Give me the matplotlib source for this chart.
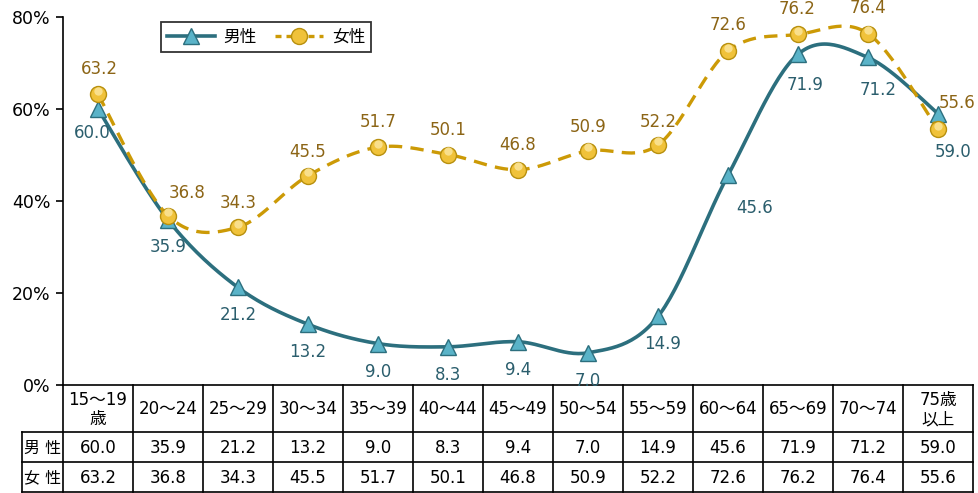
import numpy as np
import matplotlib
matplotlib.use('Agg')
import matplotlib.pyplot as plt
import matplotlib.transforms as mtrans

plt.rcParams['font.family'] = ['DejaVu Sans', 'Noto Sans CJK JP']

ages = ['15～19\n歳', '20～24', '25～29', '30～34', '35～39', '40～44', '45～49',
        '50～54', '55～59', '60～64', '65～69', '70～74', '75歳\n以上']
male = [60.0, 35.9, 21.2, 13.2, 9.0, 8.3, 9.4, 7.0, 14.9, 45.6, 71.9, 71.2, 59.0]
female = [63.2, 36.8, 34.3, 45.5, 51.7, 50.1, 46.8, 50.9, 52.2, 72.6, 76.2, 76.4, 55.6]
series_names = ['男性', '女性']
yticks = [0, 20, 40, 60, 80]

# label offsets in pixels (dx, dy), dy positive = down
male_off = [(-6, 24), (0, 27), (0, 28), (0, 28), (0, 28), (0, 28), (0, 28), (0, 28),
            (5, 28), (27, 33), (7, 31), (10, 33), (15, 38)]
female_off = [(1, -25), (19, -23), (0, -24), (0, -24), (0, -25), (0, -25), (0, -25),
              (0, -24), (0, -23), (0, -26), (-1, -25), (0, -26), (19, -26)]

MALE_C = '#2C6F7E'
FEMALE_C = '#CC9A06'
MALE_TXT = '#2B5E6D'
FEMALE_TXT = '#8C6516'


def smooth(xs, ys, n=30):
    '''Catmull-Rom style Bezier smoothing (like Excel smoothed lines).'''
    pts = np.column_stack([xs, ys]).astype(float)
    out = []
    for i in range(len(pts) - 1):
        p0 = pts[i - 1] if i > 0 else pts[i]
        p1 = pts[i]
        p2 = pts[i + 1]
        p3 = pts[i + 2] if i + 2 < len(pts) else pts[i + 1]
        c1 = p1 + (p2 - p0) / 6
        c2 = p2 - (p3 - p1) / 6
        t = np.linspace(0, 1, n)[:, None]
        seg = ((1 - t) ** 3) * p1 + 3 * ((1 - t) ** 2) * t * c1 + 3 * (1 - t) * t ** 2 * c2 + t ** 3 * p2
        out.append(seg if i == 0 else seg[1:])
    out = np.vstack(out)
    return out[:, 0], out[:, 1]


W, H = 979, 493
fig = plt.figure(figsize=(W / 100, H / 100), dpi=100)
L, R, T, B = 63, 973, 17, 385
ax = fig.add_axes([L / W, 1 - B / H, (R - L) / W, (B - T) / H])

x = np.arange(len(ages))
mx, my = smooth(x, male)
fx, fy = smooth(x, female)

ax.plot(mx, my, color=MALE_C, lw=2.6, solid_capstyle='round', zorder=3)
ax.plot(x, male, ls='none', marker='^', ms=12, mfc='#5AB3C8', mec='#2C6F7E', mew=1.0, zorder=4)
ax.plot(fx, fy, color=FEMALE_C, lw=2.4, ls=(0, (4, 2.5)), zorder=5)
ax.plot(x, female, ls='none', marker='o', ms=11.5, mfc='#F0C23A', mec='#B8900E', mew=1.0, zorder=6)
# small highlight on the gold balls
hl = ax.transData + mtrans.ScaledTranslation(0, 2.5 / 72, fig.dpi_scale_trans)
ax.plot(x, female, ls='none', marker='o', ms=6, mfc='#FBE59A', mec='none', alpha=0.85,
        transform=hl, zorder=6.5)

# legend proxies
h1, = ax.plot([], [], color=MALE_C, lw=2.6, marker='^', ms=12, mfc='#5AB3C8', mec='#2C6F7E')
h2, = ax.plot([], [], color=FEMALE_C, lw=2.4, ls=(0, (1.8, 1.5)), marker='o', ms=11.5,
              mfc='#F0C23A', mec='#B8900E')
leg = ax.legend([h1, h2], series_names, loc='upper left',
                bbox_to_anchor=((161 - L) / (R - L), (B - 22) / (B - T)),
                ncol=2, frameon=True, fancybox=False, edgecolor='black',
                fontsize=12, handlelength=2.9, columnspacing=1.1, handletextpad=0.5,
                borderpad=0.35, borderaxespad=0)
leg.get_frame().set_linewidth(1.3)

for i in range(len(ages)):
    dx, dy = male_off[i]
    ax.annotate(f'{male[i]:.1f}', (x[i], male[i]), xytext=(dx * 0.72, -dy * 0.72),
                textcoords='offset points', ha='center', va='center',
                fontsize=12, color=MALE_TXT, zorder=7)
    dx, dy = female_off[i]
    ax.annotate(f'{female[i]:.1f}', (x[i], female[i]), xytext=(dx * 0.72, -dy * 0.72),
                textcoords='offset points', ha='center', va='center',
                fontsize=12, color=FEMALE_TXT, zorder=7)

ax.set_xlim(-0.5, len(ages) - 0.5)
ax.set_ylim(0, 80)
ax.set_yticks(yticks)
ax.set_yticklabels([f'{v}%' for v in yticks], fontsize=12.5)
ax.set_xticks([])
for s in ['top', 'right', 'bottom']:
    ax.spines[s].set_visible(False)
ax.spines['left'].set_linewidth(1.2)
ax.tick_params(axis='y', length=5, width=1.2, pad=4)
ax.patch.set_alpha(0)

# data table under the chart
tab = fig.add_axes([0, 0, 1, 1], zorder=-1)
tab.set_xlim(0, W)
tab.set_ylim(H, 0)
tab.axis('off')
n = len(ages)
cw = (R - L) / n
rows = [B, 432, 462, 492]
lw = 1.2
tab.plot([L, R], [B, B], color='black', lw=lw)
for yy in rows[1:]:
    tab.plot([22, R], [yy, yy], color='black', lw=lw)
for i in range(n + 1):
    tab.plot([L + i * cw, L + i * cw], [B, rows[-1]], color='black', lw=lw)
tab.plot([22, 22], [rows[1], rows[-1]], color='black', lw=lw)
for i in range(n):
    cx = L + (i + 0.5) * cw
    tab.text(cx, (rows[0] + rows[1]) / 2 + 1, ages[i], ha='center', va='center',
             fontsize=12, linespacing=1.1)
    tab.text(cx, (rows[1] + rows[2]) / 2 + 1, f'{male[i]:.1f}', ha='center', va='center', fontsize=12)
    tab.text(cx, (rows[2] + rows[3]) / 2 + 1, f'{female[i]:.1f}', ha='center', va='center', fontsize=12)
for j, name in enumerate(series_names):
    tab.text(42.5, (rows[j + 1] + rows[j + 2]) / 2 + 1, ' '.join(name), ha='center', va='center',
             fontsize=11.5)

fig.savefig('out.png', dpi=100)
